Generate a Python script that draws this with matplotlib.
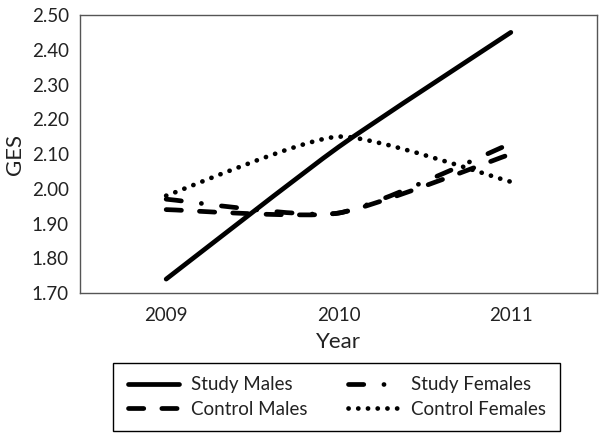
import numpy as np
import matplotlib
matplotlib.use("Agg")
import matplotlib.pyplot as plt
from matplotlib.path import Path
from matplotlib.patches import PathPatch, Rectangle
from matplotlib.lines import Line2D

plt.rcParams['font.family'] = ['Lato', 'DejaVu Sans']
plt.rcParams['lines.scale_dashes'] = False

years = ['2009', '2010', '2011']
study_males = [1.74, 2.12, 2.45]
study_females = [1.97, 1.93, 2.13]
control_males = [1.94, 1.93, 2.10]
control_females = [1.98, 2.15, 2.02]

series_names = ['Study Males', 'Study Females', 'Control Males', 'Control Females']
series_values = [study_males, study_females, control_males, control_females]
styles = ['-', (0, (11, 14.5, 0.1, 14.5)), (0, (11, 13)), (0, (0.1, 6.9))]
lw = 3.4


def smooth_path(xs, ys, k=10.0):
    # smoothed line like the spreadsheet chart: bezier segments through the points
    pts = np.column_stack([xs, ys]).astype(float)
    ext = np.vstack([pts[0], pts, pts[-1]])
    verts = [pts[0]]
    codes = [Path.MOVETO]
    for i in range(len(pts) - 1):
        p0, p1, p2, p3 = ext[i], ext[i + 1], ext[i + 2], ext[i + 3]
        verts += [p1 + (p2 - p0) / k, p2 - (p3 - p1) / k, p2]
        codes += [Path.CURVE4] * 3
    return Path(verts, codes)


fig = plt.figure(figsize=(6.01, 4.36), dpi=100)
ax = fig.add_axes([80 / 601, 1 - 293 / 436, 517 / 601, 278 / 436])

x = np.arange(len(years))
handles = []
for name, vals, ls in zip(series_names, series_values, styles):
    patch = PathPatch(smooth_path(x, vals), fill=False, edgecolor='black',
                      linewidth=lw, linestyle=ls, capstyle='round', joinstyle='round')
    ax.add_patch(patch)
    handles.append(Line2D([], [], color='black', linewidth=lw, linestyle=ls,
                          dash_capstyle='round', solid_capstyle='round', label=name))

ax.set_xlim(-0.5, 2.5)
ax.set_ylim(1.70, 2.50)
ax.set_xticks(x)
ax.set_xticklabels(years)
ax.set_yticks(np.arange(1.70, 2.501, 0.10))
ax.set_yticklabels([f'{v:.2f}' for v in np.arange(1.70, 2.501, 0.10)])
ax.tick_params(length=0, labelsize=13.5, colors='#222222', pad=8)
ax.tick_params(axis='x', pad=10)
for s in ax.spines.values():
    s.set_color('#555555')
    s.set_linewidth(1.0)

ax.set_xlabel('Year', fontsize=16, color='#222222', labelpad=6)
ax.set_ylabel('GES', fontsize=16, color='#222222', labelpad=5)

# legend box drawn separately: wider side padding than top/bottom
fig.patches.append(Rectangle((113 / 601, 1 - 431 / 436), 447 / 601, 68 / 436,
                             transform=fig.transFigure, fill=False,
                             edgecolor='black', linewidth=1.0))
order = [0, 2, 1, 3]
leg = fig.legend([handles[i] for i in order], [series_names[i] for i in order],
                 loc='center', bbox_to_anchor=(337 / 601, 1 - 397 / 436),
                 ncol=2, fontsize=13.5, frameon=False,
                 handlelength=2.75, columnspacing=2.2,
                 borderpad=0.5, labelspacing=0.42, handletextpad=0.6)
for t in leg.get_texts():
    t.set_color('#222222')

fig.savefig('out.png', dpi=100)
